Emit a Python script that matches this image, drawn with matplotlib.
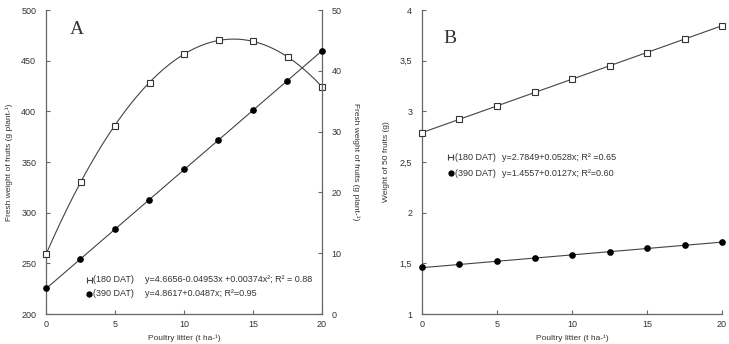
import numpy as np
import matplotlib
matplotlib.use("Agg")
import matplotlib.pyplot as plt

plt.rcParams['font.family'] = ['Liberation Sans', 'DejaVu Sans']

# ---- data ----
x = [0, 2.5, 5, 7.5, 10, 12.5, 15, 17.5, 20]
a_180 = [259, 330, 386, 428, 457, 470, 469, 454, 424]        # left axis
a_390 = [4.2, 9.05, 13.9, 18.8, 23.8, 28.6, 33.5, 38.4, 43.3]  # right axis
b_180 = [2.79, 2.92, 3.05, 3.19, 3.32, 3.45, 3.58, 3.71, 3.845]
b_390 = [1.46, 1.49, 1.52, 1.55, 1.58, 1.61, 1.65, 1.68, 1.71]

x_ticks = [0, 5, 10, 15, 20]
a_left_ticks = [200, 250, 300, 350, 400, 450, 500]
a_right_ticks = [0, 10, 20, 30, 40, 50]
b_ticks = [1, 1.5, 2, 2.5, 3, 3.5, 4]
b_tick_labels = ["1", "1,5", "2", "2,5", "3", "3,5", "4"]

leg_labels = ["(180 DAT)", "(390 DAT)"]
a_eqs = ["y=4.6656-0.04953x +0.00374x\u00b2; R\u00b2 = 0.88",
         "y=4.8617+0.0487x; R\u00b2=0.95"]
b_eqs = ["y=2.7849+0.0528x; R\u00b2 =0.65",
         "y=1.4557+0.0127x; R\u00b2=0.60"]

xlabel = "Poultry litter (t ha-\u00b9)"
a_ylabel = "Fresh weight of fruits (g plant-\u00b9)"
b_ylabel = "Weight of 50 fruits (g)"

TXT = "#333333"
SP = "#666666"
LN = "#444444"

fig = plt.figure(figsize=(7.29, 3.44), dpi=100)
axA = fig.add_axes([46/729, 30/344, 276/729, 304/344])
axB = fig.add_axes([422/729, 30/344, 300/729, 304/344])
axA2 = axA.twinx()

def style(ax, sides):
    for s in ['top', 'right', 'left', 'bottom']:
        ax.spines[s].set_visible(s in sides)
        ax.spines[s].set_color(SP)
        ax.spines[s].set_linewidth(0.9)
    ax.tick_params(direction='in', length=3, width=0.8, color=SP,
                   labelsize=6.5, labelcolor=TXT, pad=7)
    ax.set_facecolor('none')

xs = np.linspace(0, 20, 200)

# Panel A
style(axA, ['left', 'bottom'])
style(axA2, ['right'])
axA2.spines['left'].set_visible(False)
axA2.spines['bottom'].set_visible(False)
pa = np.polyfit(x, a_180, 2)
axA.plot(xs, np.polyval(pa, xs), color=LN, lw=0.8)
axA.plot(x, a_180, ls='none', marker='s', mfc='white', mec='#333333',
         ms=4.8, mew=0.8, clip_on=False, zorder=5)
pa2 = np.polyfit(x, a_390, 1)
axA2.plot(xs, np.polyval(pa2, xs), color=LN, lw=0.8)
axA2.plot(x, a_390, ls='none', marker='o', color='black', ms=3.8,
          clip_on=False, zorder=5)
axA.set_xlim(0, 20)
axA.set_ylim(200, 500)
axA2.set_ylim(0, 50)
axA.set_xticks(x_ticks)
axA.set_yticks(a_left_ticks)
axA2.set_yticks(a_right_ticks)
axA.tick_params(axis='x', pad=4)
axA.set_xlabel(xlabel, fontsize=6, color=TXT, labelpad=4)
axA.set_ylabel(a_ylabel, fontsize=6, color=TXT, labelpad=6)
axA2.set_ylabel(a_ylabel, fontsize=6, color=TXT, rotation=-90, labelpad=13)
axA.text(0.085, 0.935, "A", transform=axA.transAxes, fontsize=14,
         family='Liberation Serif', color=TXT, va='center')

def legend(ax, x0, y0, dy, eqs, xe):
    ax.plot([x0, x0 + 0.018], [y0, y0], transform=ax.transAxes, color=LN,
            lw=0.8, marker='|', ms=4, mew=0.8, clip_on=False)
    ax.plot([x0 + 0.009], [y0 - dy], transform=ax.transAxes, color='black',
            marker='o', ms=3.5, ls='none', clip_on=False)
    for i, (lab, eq) in enumerate(zip(leg_labels, eqs)):
        yy = y0 - i * dy
        ax.text(x0 + 0.022, yy, lab, transform=ax.transAxes, fontsize=6.5,
                color=TXT, va='center')
        ax.text(xe, yy, eq, transform=ax.transAxes, fontsize=6.5,
                color=TXT, va='center')

legend(axA, (87 - 46) / 276, (314 - 280) / 304, 14 / 304, a_eqs, (145 - 46) / 276)

# Panel B
style(axB, ['left', 'bottom'])
pb1 = np.polyfit(x, b_180, 1)
pb2 = np.polyfit(x, b_390, 1)
axB.plot(xs, np.polyval(pb1, xs), color=LN, lw=0.8)
axB.plot(xs, np.polyval(pb2, xs), color=LN, lw=0.8)
axB.plot(x, b_180, ls='none', marker='s', mfc='white', mec='#333333',
         ms=4.8, mew=0.8, clip_on=False, zorder=5)
axB.plot(x, b_390, ls='none', marker='o', color='black', ms=3.8,
         clip_on=False, zorder=5)
axB.set_xlim(0, 20)
axB.set_ylim(1, 4)
axB.set_xticks(x_ticks)
axB.set_yticks(b_ticks)
axB.set_yticklabels(b_tick_labels)
axB.tick_params(axis='x', pad=4)
axB.set_xlabel(xlabel, fontsize=6, color=TXT, labelpad=4)
axB.set_ylabel(b_ylabel, fontsize=6, color=TXT, labelpad=7)
axB.text(0.07, 0.905, "B", transform=axB.transAxes, fontsize=14,
         family='Liberation Serif', color=TXT, va='center')
legend(axB, (448 - 422) / 300, (314 - 157) / 304, 16 / 304, b_eqs, (502 - 422) / 300)

fig.savefig("out.png", dpi=100)
